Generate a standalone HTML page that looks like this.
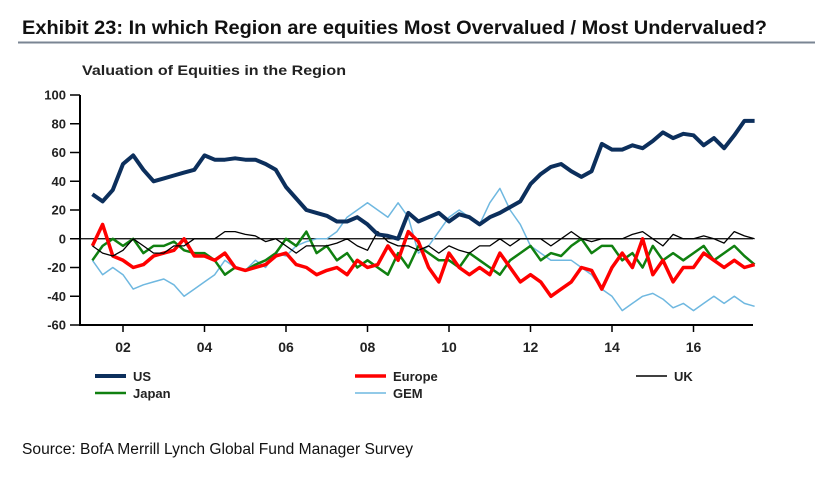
<!DOCTYPE html>
<html><head><meta charset="utf-8"><style>
body{margin:0;background:#fff;width:825px;height:482px;overflow:hidden;font-family:"Liberation Sans",Arial,sans-serif}
svg{position:absolute;left:0;top:0}
text{font-family:"Liberation Sans",Arial,sans-serif}
</style></head><body>
<svg id="c" width="825" height="482">
<text x="22" y="34" font-size="19" font-weight="bold" fill="#111" textLength="745" lengthAdjust="spacingAndGlyphs">Exhibit 23: In which Region are equities Most Overvalued / Most Undervalued?</text>
<line x1="18" y1="42.5" x2="815" y2="42.5" stroke="#7a8593" stroke-width="2"/>
<text x="82" y="75" font-size="14" font-weight="bold" fill="#222" textLength="264" lengthAdjust="spacingAndGlyphs">Valuation of Equities in the Region</text>
<text x="22" y="454" font-size="15.5" fill="#111" textLength="391" lengthAdjust="spacingAndGlyphs">Source: BofA Merrill Lynch Global Fund Manager Survey</text>
<g id="axes"></g><g id="series"></g><g id="legend"></g>
</svg>
<script>
const yTicks=[100,80,60,40,20,0,-20,-40,-60];
const xTickYears=[2002,2004,2006,2008,2010,2012,2014,2016];
const xTickLabels=["02","04","06","08","10","12","14","16"];
const startYear=2001.25;
const usVals=[31,26,34,52,58,48,40,42,44,46,48,58,55,55,56,55,55,52,48,36,28,20,18,16,12,12,15,10,3,2,0,18,12,15,18,12,17,15,10,15,18,22,26,38,45,50,52,47,43,47,66,62,62,65,63,68,74,70,73,72,65,70,63,72,82,82];
const europeVals=[-5,10,-12,-15,-20,-18,-12,-10,-8,0,-12,-12,-15,-10,-20,-22,-20,-18,-12,-10,-18,-20,-25,-22,-20,-25,-15,-20,-18,-5,-15,5,-2,-20,-30,-10,-20,-25,-20,-25,-10,-20,-30,-25,-30,-40,-35,-30,-20,-22,-35,-20,-10,-20,0,-25,-15,-30,-20,-20,-10,-15,-20,-15,-20,-18];
const ukVals=[-5,-10,-12,-8,0,-5,-10,-10,-5,-5,0,0,0,5,5,3,2,-2,0,-5,-10,-5,-5,-5,-3,0,-5,-8,5,-2,-5,-5,-8,-5,-10,-5,-8,-10,-5,-5,0,-5,0,0,0,-5,0,5,0,-2,0,0,0,3,5,0,-5,3,0,0,2,0,-3,5,2,0];
const japanVals=[-15,-5,0,-5,0,-10,-5,-5,-2,-8,-10,-10,-15,-25,-20,-22,-18,-15,-10,0,-5,5,-10,-5,-15,-10,-20,-15,-20,-25,-10,-20,-5,-10,-15,-15,-20,-10,-15,-20,-25,-15,-10,-5,-15,-10,-12,-5,0,-10,-5,-5,-15,-10,-20,-5,-15,-10,-15,-10,-5,-15,-10,-5,-12,-18];
const gemVals=[-15,-25,-20,-25,-35,-32,-30,-28,-32,-40,-35,-30,-25,-15,-20,-22,-15,-20,-10,-12,-5,-2,0,0,5,15,20,25,20,15,25,15,-10,-5,5,15,20,15,10,25,35,20,10,-5,-10,-15,-15,-15,-20,-25,-35,-40,-50,-45,-40,-38,-42,-48,-45,-50,-45,-40,-45,-40,-45,-47];
const seriesNames=["GEM","Japan","Europe","UK","US"];
const NS="http://www.w3.org/2000/svg";
const X0=80,X1=753,Y0=95,Y1=325;
function xs(yr){return 123+(yr-2002)*40.75;}
function ys(v){return Y1-(v+60)/160*(Y1-Y0);}
function mk(tag,attrs,parent){const e=document.createElementNS(NS,tag);for(const k in attrs)e.setAttribute(k,attrs[k]);parent.appendChild(e);return e;}
const ax=document.getElementById('axes');
let l=mk('line',{x1:X0,y1:Y0,x2:X0,y2:Y1+1,stroke:'#000','stroke-width':2},ax);


l=mk('line',{x1:X0,y1:Y1,x2:X1,y2:Y1,stroke:'#000','stroke-width':2},ax);


l=mk('line',{x1:X0,y1:ys(0),x2:X1,y2:ys(0),stroke:'#000','stroke-width':1.2},ax);


yTicks.forEach(v=>{
 const t=mk('line',{x1:X0-10,y1:ys(v),x2:X0,y2:ys(v),stroke:'#000','stroke-width':1.5},ax);
 
 
 const tx=mk('text',{x:X0-14,y:ys(v)+4.5,'text-anchor':'end','font-size':13,'font-weight':'bold',fill:'#222'},ax);
 tx.textContent=v;
 
 
});
xTickYears.forEach((yr,i)=>{
 const t=mk('line',{x1:xs(yr),y1:Y1,x2:xs(yr),y2:Y1+7,stroke:'#000','stroke-width':1.5},ax);
 
 
 const tx=mk('text',{x:xs(yr),y:Y1+27,'text-anchor':'middle','font-size':14,'font-weight':'bold',fill:'#222'},ax);
 tx.textContent=xTickLabels[i];
 
 
});
const styles={US:{c:'#0c2f5c',w:4},Europe:{c:'#ff0000',w:3.5},UK:{c:'#000',w:1.3},Japan:{c:'#108010',w:2.5},GEM:{c:'#6fb8e0',w:1.5}};
const dataMap={US:usVals,Europe:europeVals,UK:ukVals,Japan:japanVals,GEM:gemVals};
const sg=document.getElementById('series');
seriesNames.forEach(n=>{
 const pts=dataMap[n].map((v,i)=>xs(startYear+i*0.25).toFixed(1)+','+ys(v).toFixed(1)).join(' ');
 const p=mk('polyline',{points:pts,fill:'none',stroke:styles[n].c,'stroke-width':styles[n].w,'stroke-linejoin':'round'},sg);
 
 
});
const lg=document.getElementById('legend');
const legendPos=[["US",95,376],["Europe",355,376],["UK",636,376],["Japan",95,393],["GEM",355,393]];
legendPos.forEach(([n,x,y])=>{
 const g=mk('g',{},lg);
 
 
 mk('line',{x1:x,y1:y,x2:x+31,y2:y,stroke:styles[n].c,'stroke-width':Math.max(styles[n].w,1.5)},g);
 const t=mk('text',{x:x+38,y:y+5,'font-size':13,'font-weight':'bold',fill:'#222'},g);
 t.textContent=n;
});
</script>
</body></html>
